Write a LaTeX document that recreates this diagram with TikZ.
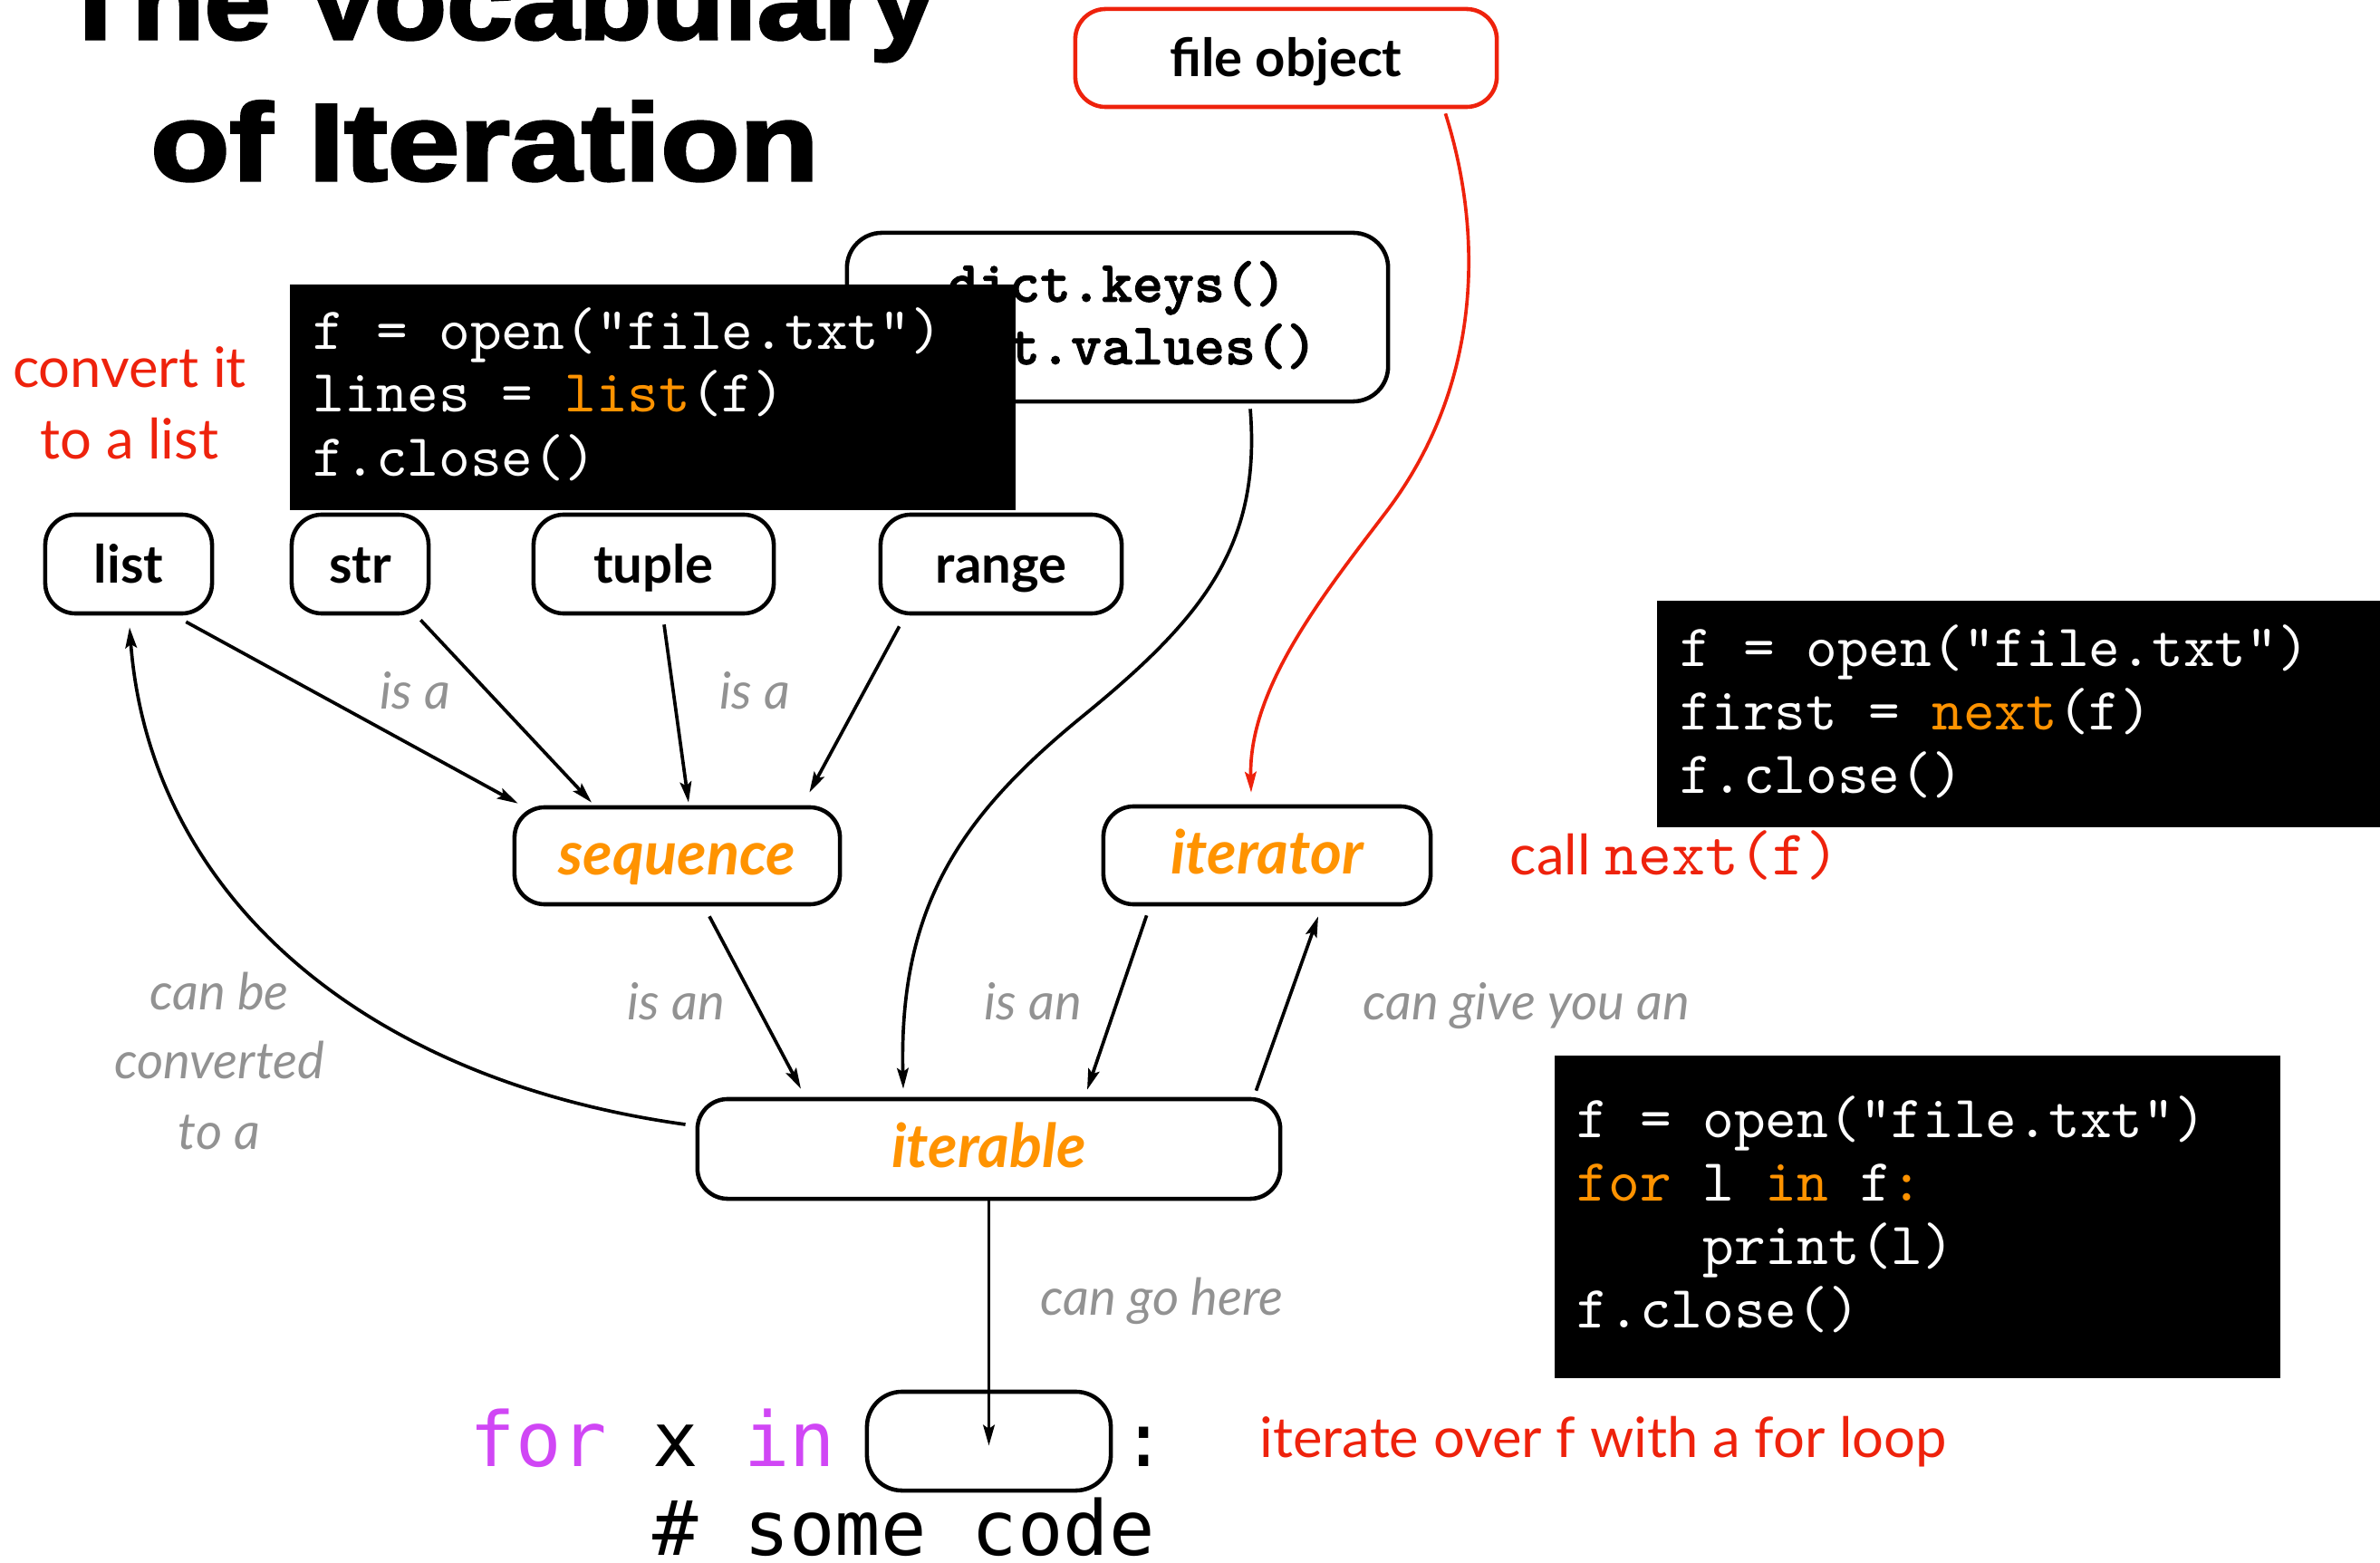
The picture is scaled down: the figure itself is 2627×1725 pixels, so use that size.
\documentclass[tikz,border=0pt]{standalone}
\usepackage{graphicx}
\usepackage{fontspec}
\setmainfont{Lato}
\newfontfamily\titlefont{Liberation Sans}[FakeBold=2.5]
\newfontfamily\courfont{lmmono10-regular.otf}
\newfontfamily\courbold{lmmonolt10-bold.otf}[FakeBold=1.5]
\newfontfamily\menlofont{DejaVu Sans Mono}
\usetikzlibrary{arrows.meta}
\definecolor{kred}{RGB}{238,34,12}
\definecolor{korange}{RGB}{255,147,0}
\definecolor{kgray}{RGB}{146,146,146}
\definecolor{kpurple}{RGB}{208,70,245}
\begin{document}
\begin{tikzpicture}[x=0.01cm,y=0.01cm,
  tbox/.style={draw, line width=1.3pt, rounded corners=9.5pt, fill=white, minimum height=1.09cm,
    inner sep=0pt, text height=11.8pt, text depth=0pt, font=\fontsize{16.5}{19}\selectfont\bfseries},
  obox/.style={tbox, text=korange, font=\fontsize{19}{22}\selectfont\bfseries\itshape},
  codebox/.style={fill=black, draw=none, inner sep=0pt},
  codetxt/.style={anchor=base west, inner sep=0pt, text=white, font=\courfont\fontsize{18.8}{22}\selectfont},
  islabel/.style={inner sep=0pt, text=kgray, font=\fontsize{16}{19}\selectfont\itshape},
  redtxt/.style={inner sep=0pt, text=kred, font=\fontsize{17.5}{21}\selectfont},
  conn/.style={line width=1.05pt, -{Stealth[length=6.5pt,width=3.6pt,inset=1.2pt]}}
]
\useasboundingbox (0,0) rectangle (2627,-1725);

% title
\node[anchor=base, inner sep=0pt, font=\titlefont\bfseries\fontsize{34.4}{40}\selectfont] (title1) at (549,-43) {\scalebox{1.085}[1]{The Vocabulary}};
\node[anchor=base, inner sep=0pt, font=\titlefont\bfseries\fontsize{34.4}{40}\selectfont] (title2) at (535,-199) {\scalebox{1.18}[1]{of Iteration}};

% file object
\node[tbox, draw=kred, minimum width=4.65cm, minimum height=1.08cm] (fileobj) at (1419.5,-64) {file object};

% dict box
\node[draw, line width=1.3pt, rounded corners=11pt, fill=white, minimum width=5.97cm, minimum height=1.86cm, inner sep=0pt] (dict) at (1233.5,-350) {};
\node[anchor=base, inner sep=0pt, font=\courbold\fontsize{18.4}{22}\selectfont] (dictk) at (1233,-333) {dict.keys()};
\node[anchor=base, inner sep=0pt, font=\courbold\fontsize{18.4}{22}\selectfont] (dictv) at (1233,-402) {dict.values()};

% code box 1
\node[codebox, minimum width=8.01cm, minimum height=2.49cm] (code1) at (720.5,-438.5) {};
\node[codetxt] (c1a) at (345,-386) {f = open("file.txt")};
\node[codetxt] (c1b) at (345,-455) {lines = \textcolor{korange}{list}(f)};
\node[codetxt] (c1c) at (345,-526) {f.close()};

% code box 2
\node[codebox, minimum width=7.98cm, minimum height=2.50cm] (code2) at (2228,-788) {};
\node[codetxt] (c2a) at (1854,-736) {f = open("file.txt")};
\node[codetxt] (c2b) at (1854,-805) {first = \textcolor{korange}{next}(f)};
\node[codetxt] (c2c) at (1854,-875) {f.close()};

% code box 3
\node[codebox, minimum width=8.01cm, minimum height=3.56cm] (code3) at (2116.5,-1343) {};
\node[codetxt] (c3a) at (1740,-1255) {f = open("file.txt")};
\node[codetxt] (c3b) at (1740,-1325) {\textcolor{korange}{for} l \textcolor{korange}{in} f\textcolor{korange}{:}};
\node[codetxt] (c3c) at (1740,-1395) {\phantom{0000}print(l)};
\node[codetxt] (c3d) at (1740,-1465) {f.close()};

% type boxes
\node[tbox, minimum width=1.84cm] (list) at (142,-622.5) {list};
\node[tbox, minimum width=1.51cm] (str) at (397.5,-622.5) {str};
\node[tbox, minimum width=2.65cm] (tuple) at (721.5,-622.5) {tuple};
\node[tbox, minimum width=2.66cm] (range) at (1105,-622.5) {range};

\node[obox, minimum width=3.59cm, minimum height=1.07cm] (sequence) at (747.5,-944.5) {sequence};
\node[obox, minimum width=3.61cm, minimum height=1.08cm] (iterator) at (1398.5,-944) {iterator};
\node[obox, minimum width=6.43cm, minimum height=1.10cm] (iterable) at (1091.5,-1268) {iterable};

% for loop line
\node[anchor=base west, inner sep=0pt, font=\menlofont\fontsize{23.8}{28}\selectfont] (forx) at (518,-1618) {\textcolor{kpurple}{for} x \textcolor{kpurple}{in}};
\node[draw, line width=1.3pt, rounded corners=11pt, fill=white, minimum width=2.69cm, minimum height=1.09cm, inner sep=0pt] (slot) at (1091.5,-1590.5) {};
\node[anchor=base west, inner sep=0pt, font=\menlofont\fontsize{23.8}{28}\selectfont] (colon) at (1237,-1618) {:};
\node[anchor=base west, inner sep=0pt, font=\menlofont\fontsize{23.8}{28}\selectfont] (somecode) at (518,-1716) {\phantom{0000}\# some code};

% gray labels
\node[islabel, anchor=base west] (isa1) at (419,-783) {is a};
\node[islabel, anchor=base west] (isa2) at (794,-783) {is a};
\node[islabel, anchor=base west] (isan1) at (692,-1125) {is an};
\node[islabel, anchor=base west] (isan2) at (1086,-1125) {is an};
\node[islabel, anchor=base west] (cangive) at (1504,-1125) {can give you an};
\node[islabel, anchor=base west] (cango) at (1148,-1451) {can go here};
\node[islabel, anchor=base] (canbe1) at (242,-1114) {can be};
\node[islabel, anchor=base] (canbe2) at (242,-1190) {converted};
\node[islabel, anchor=base] (canbe3) at (242,-1268) {to a};

% red labels
\node[redtxt, anchor=base] (conv1) at (143,-428) {convert it};
\node[redtxt, anchor=base] (conv2) at (143,-507) {to a list};
\node[redtxt, anchor=base west] (callnext) at (1666,-965) {call {\courfont\fontsize{20}{24}\selectfont next(f)}};
\node[redtxt, anchor=base west] (iterover) at (1390,-1608) {iterate over f with a for loop};

% connectors
\draw[conn] ([shift={(-31,-7)}]list.south east) -- ([shift={(6,2)}]sequence.north west);
\draw[conn] ([shift={(-11,-5)}]str.south east) -- ([shift={(-94.5,3)}]sequence.north);
\draw[conn] ([shift={(11.5,-10)}]tuple.south) -- ([shift={(12.5,3)}]sequence.north);
\draw[conn] ([shift={(23,-12)}]range.south west) -- ([shift={(-36,14)}]sequence.north east);
\draw[conn] ([shift={(-11,27)}]iterable.west) .. controls (390,-1190) and (165,-980) .. ([shift={(1,-13)}]list.south);
\draw[conn] ([shift={(35.5,-11)}]sequence.south) -- ([shift={(-207.5,9)}]iterable.north);
\draw[conn] ([shift={(146.5,-6)}]dict.south) .. controls (1392,-600) and (1330,-680) .. (1198,-788)
   .. controls (1060,-900) and (992,-1000) .. ([shift={(-94.5,9)}]iterable.north);
\draw[conn] ([shift={(50,-10)}]iterator.south west) -- ([shift={(108.5,8)}]iterable.north);
\draw[conn] ([shift={(-29,7)}]iterable.north east) -- ([shift={(56.5,-11)}]iterator.south);
\draw[conn, color=kred] ([shift={(-59,-5)}]fileobj.south east) .. controls (1635,-250) and (1640,-420) .. (1530,-565)
   .. controls (1460,-657) and (1378,-760) .. ([shift={(-17.5,13)}]iterator.north);
\draw[conn] (iterable.south) -- ([shift={(0,-5)}]slot.center);
\end{tikzpicture}
\end{document}
